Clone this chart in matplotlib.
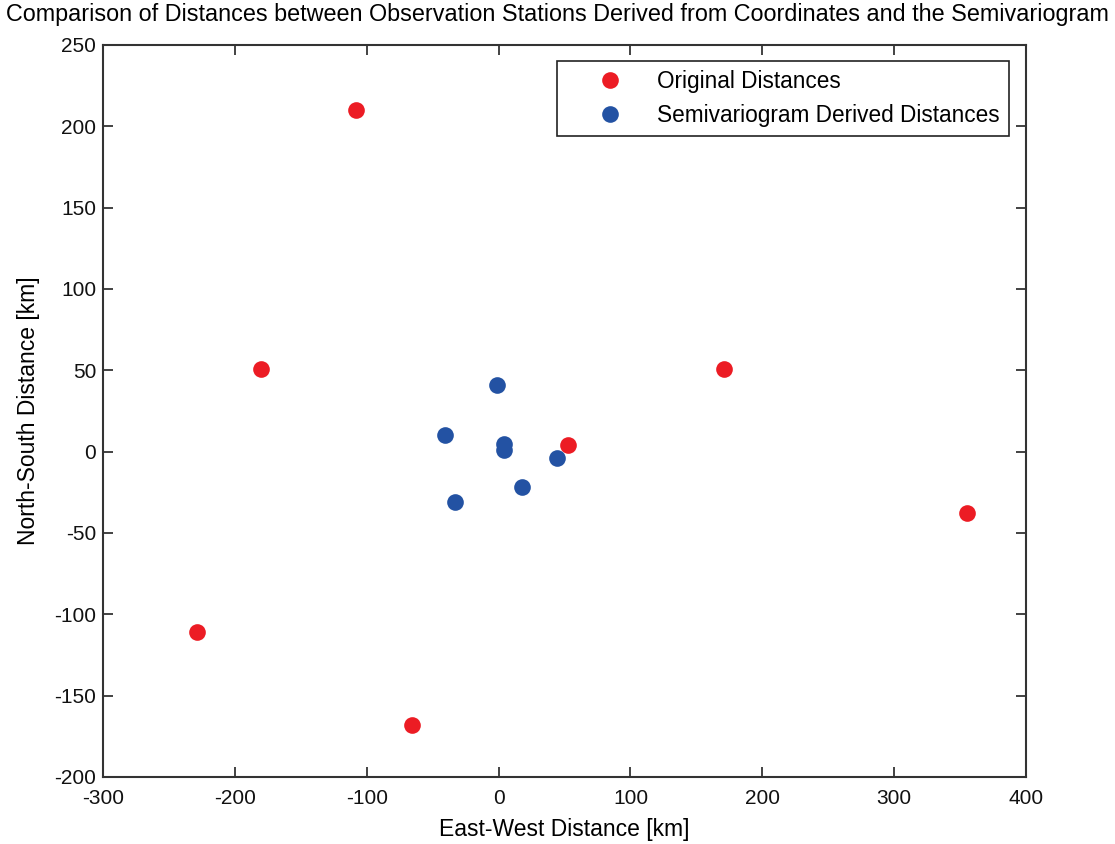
import matplotlib
matplotlib.use('Agg')
import matplotlib.pyplot as plt

# station offsets in km (east-west, north-south)
orig_x = [-108, -180, -229, -66, 53, 171, 355]
orig_y = [210, 51, -111, -168, 4, 51, -38]
semi_x = [-1, -41, 4, 4, 44, 18, -33]
semi_y = [41, 10, 5, 1, -4, -22, -31]

x_ticks = [-300, -200, -100, 0, 100, 200, 300, 400]
y_ticks = [-200, -150, -100, -50, 0, 50, 100, 150, 200, 250]

plt.rcParams['font.family'] = ['Liberation Sans', 'DejaVu Sans']
plt.rcParams['font.size'] = 15
plt.rcParams['axes.unicode_minus'] = False

fig = plt.figure(figsize=(11.15, 8.44), dpi=100)
ax = fig.add_axes([0.0924, 0.0794, 0.8278, 0.8673])

ax.plot(orig_x, orig_y, 'o', color='#ec1c24', markersize=12, markeredgewidth=0,
        label='Original Distances')
ax.plot(semi_x, semi_y, 'o', color='#2352a3', markersize=12, markeredgewidth=0,
        label='Semivariogram Derived Distances')

ax.set_xlim(-300, 400)
ax.set_ylim(-200, 250)
ax.set_xticks(x_ticks)
ax.set_yticks(y_ticks)
ax.tick_params(direction='in', length=7, width=1.2, top=True, right=True,
               colors='#222222', labelcolor='#111111', labelsize=15)
ax.tick_params(axis='x', pad=9)
ax.tick_params(axis='y', pad=5)
for s in ax.spines.values():
    s.set_linewidth(1.5)
    s.set_color('#333333')

ax.set_xlabel('East-West Distance [km]', fontsize=16.5, labelpad=7)
ax.set_ylabel('North-South Distance [km]', fontsize=16.5, labelpad=10)
fig.suptitle('Comparison of Distances between Observation Stations Derived from Coordinates and the Semivariogram',
             fontsize=16.8, x=0.5, y=0.996, va='top')

leg = ax.legend(loc='upper right', bbox_to_anchor=(0.9816, 0.9786), borderaxespad=0,
                fancybox=False, edgecolor='#222222', framealpha=1, fontsize=16.3,
                handlelength=3.9, handletextpad=0.15, borderpad=0.4, labelspacing=0.5)
leg.get_frame().set_linewidth(1.2)

fig.savefig('out.png', dpi=100)
